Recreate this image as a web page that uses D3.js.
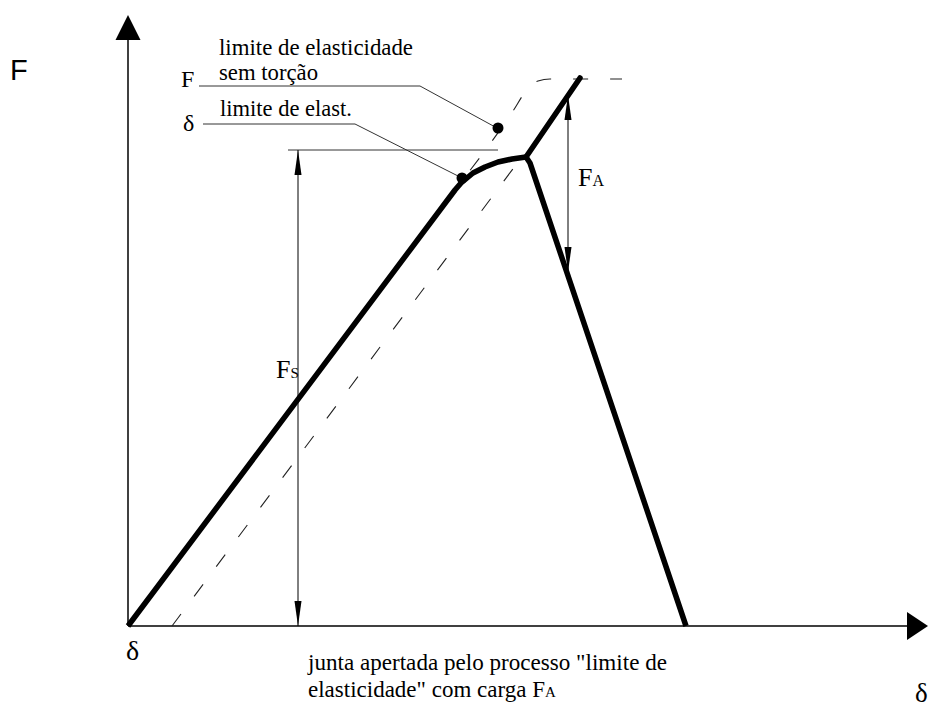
<!DOCTYPE html>
<html>
<head>
<meta charset="utf-8">
<script src="https://cdn.jsdelivr.net/npm/d3@7"></script>
<style>
  body { margin: 0; background: #fff; }
  svg { display: block; }
</style>
</head>
<body>
<script>
// deformation (delta) and force (F) values, in drawing units from the origin
var jointCurve = [[0, 0], [327, 436], [333, 443], [345, 453], [357, 459], [370, 464], [384, 467], [398, 469], [402, 463], [558, 0]];
var loadedLine = [[398, 469], [452, 548]];
var shiftedLine = [[44, 0], [396, 472]];
var noTorsionLine = [[330, 440], [385, 515], [398, 535], [410, 545], [422, 547], [494, 547]];
var limitPoints = [[334, 448], [370, 498]];
var leaderF = [[71, 540], [292, 540], [369, 498]];
var leaderDelta = [[75, 502], [227, 502], [334, 448]];
var fsExtension = [[160, 476], [370, 476]];
var fsArrow = [[170, 476], [170, 0]];
var faArrow = [[440, 531], [440, 354]];
var axisMax = [800, 611];

var width = 940, height = 707;
var serif = "'Liberation Serif', 'Times New Roman', 'DejaVu Serif', serif";

var svg = d3.select("body").append("svg")
    .attr("width", width)
    .attr("height", height);

// scales: origin sits at (128, 626)
var x = d3.scaleLinear().domain([0, axisMax[0]]).range([128, 928]);
var y = d3.scaleLinear().domain([0, axisMax[1]]).range([626, 15]);

var line = d3.line()
    .x(function(d) { return x(d[0]); })
    .y(function(d) { return y(d[1]); });

var smooth = d3.line()
    .curve(d3.curveMonotoneX)
    .x(function(d) { return x(d[0]); })
    .y(function(d) { return y(d[1]); });

// axes with solid arrow heads
svg.append("line")
    .attr("x1", x(0)).attr("y1", y(0))
    .attr("x2", x(axisMax[0]) - 21).attr("y2", y(0))
    .attr("stroke", "#000").attr("stroke-width", 1.5);
svg.append("line")
    .attr("x1", x(0)).attr("y1", y(0))
    .attr("x2", x(0)).attr("y2", y(axisMax[1]) + 25)
    .attr("stroke", "#000").attr("stroke-width", 1.5);
svg.append("path")
    .attr("d", "M" + x(axisMax[0]) + "," + y(0) + "L" + (x(axisMax[0]) - 21) + "," + (y(0) - 14) +
               "L" + (x(axisMax[0]) - 21) + "," + (y(0) + 14) + "Z")
    .attr("fill", "#000");
svg.append("path")
    .attr("d", "M" + x(0) + "," + y(axisMax[1]) + "L" + (x(0) - 12.5) + "," + (y(axisMax[1]) + 25) +
               "L" + (x(0) + 12.5) + "," + (y(axisMax[1]) + 25) + "Z")
    .attr("fill", "#000");

// dashed reference lines
svg.append("path")
    .attr("d", line(shiftedLine))
    .attr("fill", "none").attr("stroke", "#222")
    .attr("stroke-width", 1.1).attr("stroke-dasharray", "15,22");
svg.append("path")
    .attr("d", smooth(noTorsionLine))
    .attr("fill", "none").attr("stroke", "#222")
    .attr("stroke-width", 1.1).attr("stroke-dasharray", "15,22")
    .attr("stroke-dashoffset", -20);

// leader lines
[leaderF, leaderDelta].forEach(function(l) {
  svg.append("path")
      .attr("d", line(l))
      .attr("fill", "none").attr("stroke", "#333").attr("stroke-width", 1);
});

// dimension lines
svg.append("path")
    .attr("d", line(fsExtension))
    .attr("fill", "none").attr("stroke", "#333").attr("stroke-width", 1);

function dimArrow(pts) {
  var x1 = x(pts[0][0]), y1 = y(pts[0][1]), x2 = x(pts[1][0]), y2 = y(pts[1][1]);
  svg.append("line")
      .attr("x1", x1).attr("y1", y1).attr("x2", x2).attr("y2", y2)
      .attr("stroke", "#000").attr("stroke-width", 1);
  var dir = y2 > y1 ? 1 : -1;
  [[x1, y1, dir], [x2, y2, -dir]].forEach(function(a) {
    svg.append("path")
        .attr("d", "M" + a[0] + "," + a[1] + "L" + (a[0] - 3.5) + "," + (a[1] + a[2] * 25) +
                   "L" + (a[0] + 3.5) + "," + (a[1] + a[2] * 25) + "Z")
        .attr("fill", "#000");
  });
}
dimArrow(fsArrow);
dimArrow(faArrow);

// thick joint diagram
svg.append("path")
    .attr("d", line(jointCurve))
    .attr("fill", "none").attr("stroke", "#000")
    .attr("stroke-width", 5.5).attr("stroke-linejoin", "round");
svg.append("path")
    .attr("d", line(loadedLine))
    .attr("fill", "none").attr("stroke", "#000")
    .attr("stroke-width", 5.5).attr("stroke-linecap", "round");

// limit points
svg.selectAll(".dot")
    .data(limitPoints)
    .enter().append("circle")
    .attr("class", "dot")
    .attr("cx", function(d) { return x(d[0]); })
    .attr("cy", function(d) { return y(d[1]); })
    .attr("r", 5.5)
    .attr("fill", "#000");

// labels
svg.append("text")
    .attr("x", 10).attr("y", 80)
    .attr("font-family", "'Liberation Sans', Arial, sans-serif")
    .attr("font-size", 29)
    .text("F");

function label(t, px, py, size, len) {
  var el = svg.append("text")
      .attr("x", px).attr("y", py)
      .attr("font-family", serif)
      .attr("font-size", size)
      .text(t);
  if (len) el.attr("textLength", len).attr("lengthAdjust", "spacingAndGlyphs");
  return el;
}

label("limite de elasticidade", 219, 55, 23, 194);
label("sem torção", 219, 80, 23, 99);
label("F", 181, 87, 24);
label("δ", 183, 131, 24);
label("limite de elast.", 220, 116, 23, 132);
label("δ", 126, 660, 28);
label("δ", 915, 702, 27);
label("junta apertada pelo processo \"limite de", 308, 670, 23, 359);

function subLabel(main, sub, px, py, size, subSize, el) {
  var t = el || svg.append("text").attr("font-family", serif).attr("x", px).attr("y", py);
  t.append("tspan").attr("font-size", size).text(main);
  t.append("tspan").attr("font-size", subSize).text(sub);
  return t;
}

subLabel("F", "A", 578, 186, 26, 16);
subLabel("F", "S", 276, 378, 26, 15);

var bottom2 = svg.append("text").attr("font-family", serif).attr("x", 308).attr("y", 697);
bottom2.append("tspan").attr("font-size", 23).text("elasticidade\" com carga ");
subLabel("F", "A", 0, 0, 23, 15, bottom2);
</script>
</body>
</html>
